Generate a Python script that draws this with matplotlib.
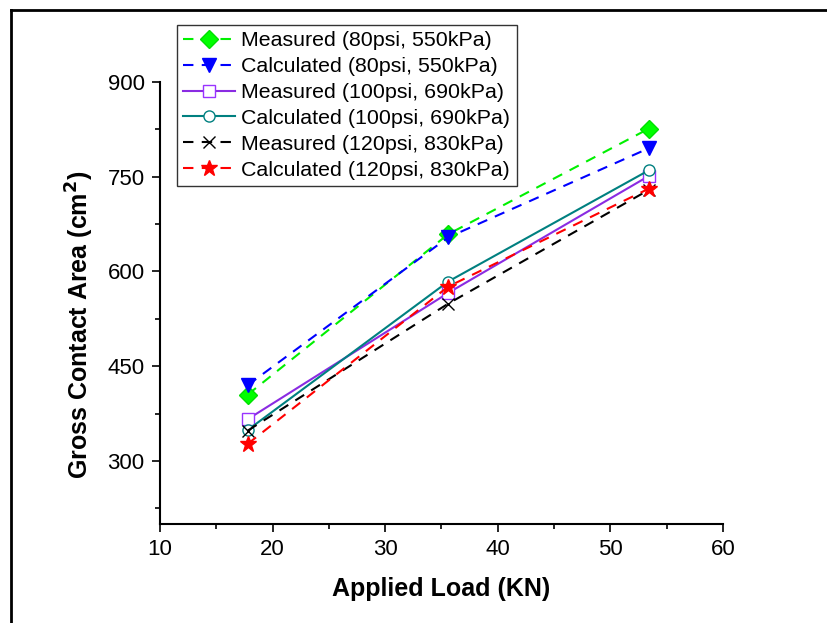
import matplotlib
matplotlib.use("Agg")
import matplotlib.pyplot as plt
from matplotlib.lines import Line2D

plt.rcParams["font.family"] = ["Liberation Sans", "DejaVu Sans"]

# ── data ──────────────────────────────────────────────────────────────
load_kn = [17.8, 35.6, 53.4]

meas_80 = [405, 659, 826]
calc_80 = [420, 654, 795]
meas_100 = [366, 566, 751]
calc_100 = [349, 584, 760]
meas_120 = [348, 549, 729]
calc_120 = [327, 576, 731]

labels = [
    "Measured (80psi, 550kPa)",
    "Calculated (80psi, 550kPa)",
    "Measured (100psi, 690kPa)",
    "Calculated (100psi, 690kPa)",
    "Measured (120psi, 830kPa)",
    "Calculated (120psi, 830kPa)",
]

x_ticks = [10, 20, 30, 40, 50, 60]
y_ticks = [300, 450, 600, 750, 900]

# ── plot ──────────────────────────────────────────────────────────────
fig = plt.figure(figsize=(8.28, 6.23), dpi=100)
ax = fig.add_axes([0.1932, 0.1589, 0.68, 0.7095])

dash = (5, 4)
ax.plot(load_kn, meas_80, "--", dashes=dash, color="#00f000", lw=1.5,
        marker="D", ms=9, mfc="#00ff00", mec="#00e000", label=labels[0])
ax.plot(load_kn, calc_80, "--", dashes=dash, color="#0000ff", lw=1.5,
        marker="v", ms=10, label=labels[1])
ax.plot(load_kn, meas_100, "-", color="#8a2be2", lw=1.5,
        marker="s", ms=8, mfc="white", mec="#9933ff", label=labels[2])
ax.plot(load_kn, calc_100, "-", color="#008080", lw=1.5,
        marker="o", ms=8, mfc="white", mec="#008080", label=labels[3])
ax.plot(load_kn, meas_120, "--", dashes=dash, color="black", lw=1.5,
        marker="x", ms=9, mew=1.0, label=labels[4])
ax.plot(load_kn, calc_120, "--", dashes=dash, color="#ff0000", lw=1.5,
        marker="*", ms=12, label=labels[5])

ax.set_xlim(10, 60)
ax.set_ylim(200, 900)
ax.set_xticks(x_ticks)
ax.set_yticks(y_ticks)
ax.set_xticks([15, 25, 35, 45, 55], minor=True)
ax.set_yticks([225, 375, 525, 675, 825], minor=True)
ax.tick_params(which="major", direction="out", length=6, width=1.2,
               labelsize=16, pad=5)
ax.tick_params(which="minor", direction="out", length=3.5, width=1.2)

for side in ("top", "right"):
    ax.spines[side].set_visible(False)
for side in ("left", "bottom"):
    ax.spines[side].set_linewidth(1.5)

ax.set_xlabel("Applied Load (KN)", fontsize=18, fontweight="bold", labelpad=12)
ax.set_ylabel("Gross Contact Area (cm$^\\mathbf{2}$)", fontsize=18,
              fontweight="bold")
ax.yaxis.set_label_coords(-0.114, 0.45)

leg = ax.legend(loc="upper left", bbox_to_anchor=(177 / 828, 1 - 25 / 623),
                bbox_transform=fig.transFigure, fontsize=15.4, frameon=True,
                fancybox=False, edgecolor="black", handlelength=2.4,
                handletextpad=0.3, borderpad=0.3, labelspacing=0.32,
                borderaxespad=0)
leg.get_frame().set_linewidth(1.0)

# outer frame lines (top and left only)
fig.add_artist(Line2D([11 / 828, 1], [1 - 10 / 623, 1 - 10 / 623],
                      transform=fig.transFigure, color="black", lw=2))
fig.add_artist(Line2D([11 / 828, 11 / 828], [0, 1 - 10 / 623],
                      transform=fig.transFigure, color="black", lw=2))

fig.savefig("out.png", dpi=100)
